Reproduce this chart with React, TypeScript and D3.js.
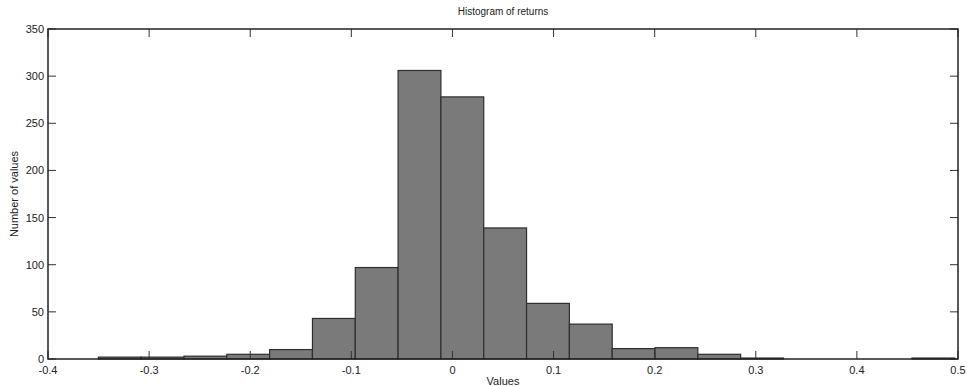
import * as d3 from 'd3';

// histogram bins: 20 equal bins between the data min and max
const binStart = -0.3502;
const binEnd = 0.4968;
const counts = [2, 2, 3, 5, 10, 43, 97, 306, 278, 139, 59, 37, 11, 12, 5, 1, 0, 0, 0, 1];
const xTicks = [-0.4, -0.3, -0.2, -0.1, 0, 0.1, 0.2, 0.3, 0.4, 0.5];
const yTicks = [0, 50, 100, 150, 200, 250, 300, 350];

const width = 967;
const height = 386;
const margin = { top: 29, right: 9, bottom: 27, left: 48 };

export default function App() {
  const x = d3.scaleLinear().domain([-0.4, 0.5]).range([margin.left, width - margin.right]);
  const y = d3.scaleLinear().domain([0, 350]).range([height - margin.bottom, margin.top]);
  const binW = (binEnd - binStart) / counts.length;
  const tick = 8;
  const font = 'Liberation Sans, Arial, sans-serif';
  const x0 = margin.left;
  const x1 = width - margin.right;
  const y0 = height - margin.bottom;
  const y1 = margin.top;

  return (
    <svg width={width} height={height} style={{ position: 'absolute', left: 0, top: 0, background: '#fff' }} fontFamily={font}>
      {counts.map((c, i) => {
        const a = x(binStart + i * binW);
        const b = x(binStart + (i + 1) * binW);
        return (
          <rect key={i} x={a} y={y(c)} width={b - a} height={y(0) - y(c)} fill="#7a7a7a" stroke="#2e2e2e" strokeWidth={1.2} />
        );
      })}
      {xTicks.map((t) => (
        <g key={'x' + t}>
          <line x1={x(t)} x2={x(t)} y1={y0} y2={y0 - tick} stroke="#333" strokeWidth={1} />
          <line x1={x(t)} x2={x(t)} y1={y1} y2={y1 + tick} stroke="#333" strokeWidth={1} />
          <text x={x(t)} y={y0 + 15} fontSize={11} textAnchor="middle" fill="#222">
            {String(+t.toFixed(1))}
          </text>
        </g>
      ))}
      {yTicks.map((t) => (
        <g key={'y' + t}>
          <line x1={x0} x2={x0 + tick} y1={y(t)} y2={y(t)} stroke="#333" strokeWidth={1} />
          <line x1={x1} x2={x1 - tick} y1={y(t)} y2={y(t)} stroke="#333" strokeWidth={1} />
          <text x={x0 - 4} y={y(t) + 4} fontSize={11} textAnchor="end" fill="#222">
            {t}
          </text>
        </g>
      ))}
      <rect x={x0} y={y1} width={x1 - x0} height={y0 - y1} fill="none" stroke="#222" strokeWidth={1.5} />
      <text x={(x0 + x1) / 2} y={15} fontSize={10} textAnchor="middle" fill="#222">
        Histogram of returns
      </text>
      <text x={(x0 + x1) / 2} y={385} fontSize={11} textAnchor="middle" fill="#222">
        Values
      </text>
      <text transform={`translate(18,${(y0 + y1) / 2}) rotate(-90)`} fontSize={11} textAnchor="middle" fill="#222">
        Number of values
      </text>
    </svg>
  );
}
